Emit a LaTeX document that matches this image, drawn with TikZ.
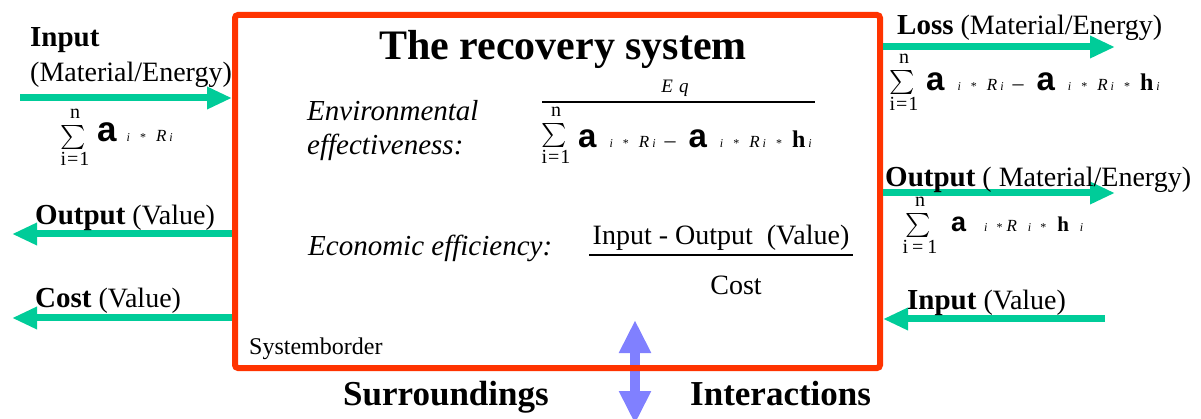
\documentclass[tikz,border=0pt]{standalone}
\usepackage{fontspec}
\usepackage{graphicx}
\setmainfont{Liberation Serif}
\newfontfamily\arialf{Liberation Sans}
\usetikzlibrary{arrows.meta}
\definecolor{boxred}{RGB}{255,51,0}
\definecolor{flowgreen}{RGB}{0,204,153}
\definecolor{interblue}{RGB}{128,128,255}
\newcommand\fsz[1]{\fontsize{#1}{#1}\selectfont}
\newcommand\sbi{{\fsz{12}\itshape i}}
\newcommand\sbst{{\fsz{12}*}}
\newcommand\sbR{{\fsz{17}\itshape R}}
\newcommand\alp[1]{{\arialf\bfseries\fsz{#1}a}}
\newcommand\etah[1]{{\bfseries\fsz{#1}h}}
\newcommand\iRi{\sbi\hspace{10pt}\sbst\hspace{10pt}\sbR\hspace{3pt}\sbi}
\tikzset{
  txt/.style={inner sep=0pt, anchor=base west, font=\fsz{28}},
  itx/.style={inner sep=0pt, anchor=base west, font=\fsz{29}\itshape},
  bigb/.style={inner sep=0pt, anchor=base west, font=\fsz{35}\bfseries},
  flow/.style={draw=flowgreen, line width=7pt, -{Triangle[length=25pt,width=21pt]}},
  sigsty/.style={inner sep=0pt},
  limsty/.style={inner sep=0pt, anchor=base, font=\fsz{20}},
  sumsym/.pic={
    \node[sigsty] (-sig) at (0,0) {\scalebox{2.4}{$\sum$}};
    \node[limsty] (-top) at (2,-19) {n};
    \node[limsty] (-bot) at (2,28) {#1};
  }
}
\begin{document}
\begin{tikzpicture}[x=1pt,y=-1pt]
\useasboundingbox (0,0) rectangle (1201,419);
\clip (0,0) rectangle (1201,419);
% interaction arrow (behind the border)
\coordinate (itop) at (635,320);
\coordinate (ibot) at (635,424);
\draw[interblue, line width=10pt, {Triangle[length=33pt,width=30pt]}-{Triangle[length=33pt,width=30pt]}] (itop) -- (ibot);
% system border
\node[draw=boxred, line width=6pt, rounded corners=3pt, minimum width=645pt, minimum height=353pt, inner sep=0pt] (box) at (557.5,191.5) {};
% flows
\coordinate (inL) at (20,98);
\coordinate (outL) at (12,234);
\coordinate (costL) at (12,318);
\coordinate (lossR) at (1115,47);
\coordinate (outR) at (1115,193);
\coordinate (inR) at (1105,319);
\draw[flow] (inL) -- (inL -| box.west);
\draw[flow] (outL -| box.west) -- (outL);
\draw[flow] (costL -| box.west) -- (costL);
\draw[flow] (lossR -| box.east) -- (lossR);
\draw[flow] (outR -| box.east) -- (outR);
\draw[flow] (inR) -- (inR -| box.east);
% title
\node[inner sep=0pt, anchor=base, font=\fsz{42}\bfseries] (title) at (563,60) {The recovery system};
% left labels
\node[txt] (inLab) at (30,47) {\fsz{29}\bfseries Input};
\node[txt] (inLab2) at (30,82) {(Material/Energy)};
\node[txt] (outLab) at (35,225) {{\fsz{29}\bfseries Output} (Value)};
\node[txt] (costLab) at (35,308) {{\fsz{29}\bfseries Cost} (Value)};
\pic (sL) at (73,138) {sumsym={i\kern1pt=\kern1pt1}};
\node[inner sep=0pt, anchor=base west] (fL) at (97,142) {\alp{35}\hspace{10pt}\iRi};
% right labels
\node[txt] (lossLab) at (897,35) {{\fsz{29}\bfseries Loss} (Material/Energy)};
\pic (sLoss) at (902,83) {sumsym={i\kern1pt=\kern1pt1}};
\node[inner sep=0pt, anchor=base west] (fLoss) at (926,91) {\alp{33}\hspace{13pt}\iRi\hspace{9pt}{\fsz{22}–}\hspace{13pt}\alp{33}\hspace{13pt}\iRi\hspace{10pt}\sbst\hspace{10pt}\etah{24}\hspace{3pt}\sbi};
\node[txt] (outRLab) at (885,187) {{\fsz{29}\bfseries Output} ( Material/Energy)};
\pic (sOut) at (918,226) {sumsym={i\kern4pt=\kern4pt1}};
\node[inner sep=0pt, anchor=base west] (fOut) at (951,232) {\alp{27}\hspace{18pt}\sbi\hspace{9pt}\sbst\hspace{4pt}\sbR\hspace{11pt}\sbi\hspace{9pt}\sbst\hspace{11pt}\etah{21}\hspace{11pt}\sbi};
\node[txt] (inRLab) at (907,310) {{\fsz{29}\bfseries Input} (Value)};
% environmental effectiveness
\node[itx] (env1) at (307,121) {Environmental};
\node[itx] (env2) at (307,155) {effectiveness:};
\node[inner sep=0pt, anchor=base, font=\fsz{19}\itshape] (eq) at (675,93) {E\hspace{6pt}q};
\coordinate (fr1a) at (542,102);
\coordinate (fr1b) at (815,102);
\draw[line width=1.5pt] (fr1a) -- (fr1b);
\pic (sMid) at (554,136) {sumsym={i\kern1pt=\kern1pt1}};
\node[inner sep=0pt, anchor=base west] (fMid) at (578,148) {\alp{33}\hspace{13pt}\iRi\hspace{9pt}{\fsz{22}–}\hspace{13pt}\alp{33}\hspace{13pt}\iRi\hspace{10pt}\sbst\hspace{10pt}\etah{24}\hspace{3pt}\sbi};
% economic efficiency
\node[itx] (eco) at (308,256) {Economic efficiency:};
\node[txt, anchor=base] (num) at (721,245) {Input - Output\ \ (Value)};
\coordinate (fr2a) at (589,255);
\coordinate (fr2b) at (853,255);
\draw[line width=2pt] (fr2a) -- (fr2b);
\node[txt, anchor=base] (den) at (736,295) {Cost};
% bottom texts
\node[txt, font=\fsz{24}] (sb) at (249,354) {Systemborder};
\node[bigb] (sur) at (343,405) {Surroundings};
\node[bigb] (int) at (690,405) {Interactions};
\end{tikzpicture}
\end{document}
